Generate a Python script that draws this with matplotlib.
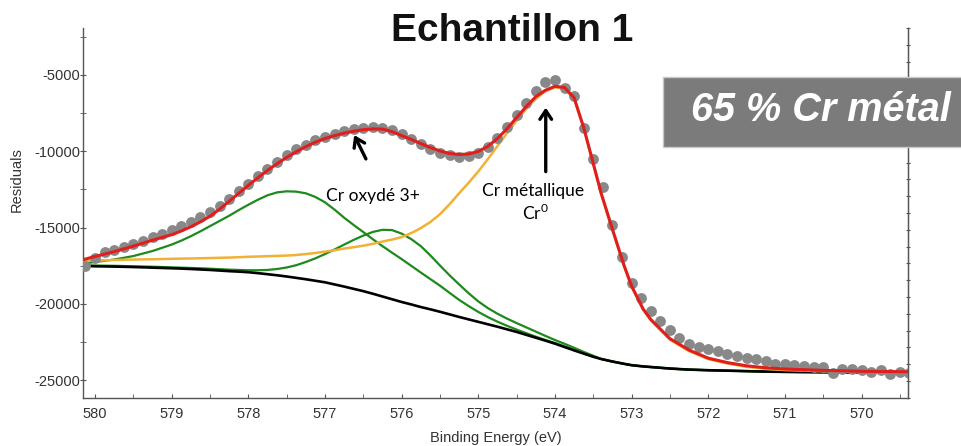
import matplotlib
matplotlib.use("Agg")
import matplotlib.pyplot as plt
from matplotlib.patches import Rectangle
from matplotlib.ticker import MultipleLocator

plt.rcParams['font.family'] = ['Liberation Sans', 'DejaVu Sans']
plt.rcParams['mathtext.fontset'] = 'custom'
plt.rcParams['mathtext.rm'] = 'Lato'

# ---- measured spectrum (Cr 2p3/2) ----
energy_pts = [580.125, 580.0, 579.875, 579.75, 579.625, 579.5, 579.375, 579.25, 579.125, 579.0,
              578.875, 578.75, 578.625, 578.5, 578.375, 578.25, 578.125, 578.0, 577.875, 577.75,
              577.625, 577.5, 577.375, 577.25, 577.125, 577.0, 576.875, 576.75, 576.625, 576.5,
              576.375, 576.25, 576.125, 576.0, 575.875, 575.75, 575.625, 575.5, 575.375, 575.25,
              575.125, 575.0, 574.875, 574.75, 574.625, 574.5, 574.375, 574.25, 574.125, 574.0,
              573.875, 573.75, 573.625, 573.5, 573.375, 573.25, 573.125, 573.0, 572.875, 572.75,
              572.625, 572.5, 572.375, 572.25, 572.125, 572.0, 571.875, 571.75, 571.625, 571.5,
              571.375, 571.25, 571.125, 571.0, 570.875, 570.75, 570.625, 570.5, 570.375, 570.25,
              570.125, 570.0, 569.875, 569.75, 569.625, 569.5, 569.375]
counts_pts = [-17520, -16970, -16610, -16450, -16250, -16060, -15860, -15630, -15400, -15170,
              -14910, -14650, -14330, -14000, -13580, -13120, -12630, -12140, -11650, -11160,
              -10710, -10280, -9890, -9570, -9270, -9040, -8850, -8690, -8550, -8460,
              -8420, -8460, -8620, -8880, -9170, -9500, -9830, -10090, -10280, -10380,
              -10320, -10090, -9700, -9110, -8390, -7610, -6830, -6040, -5460, -5330,
              -5850, -6370, -8460, -10480, -12370, -14850, -16940, -18630, -19610, -20460,
              -21140, -21700, -22220, -22610, -22840, -22970, -23100, -23290, -23420, -23520,
              -23620, -23750, -23910, -23960, -24010, -24080, -24130, -24170, -24500, -24290,
              -24290, -24350, -24460, -24350, -24570, -24460, -24500]

# ---- fitted curves ----
energy_fit = [580.15, 580.0, 579.75, 579.5, 579.25,
              579.0, 578.875, 578.75, 578.625, 578.5, 578.375, 578.25, 578.125, 578.0, 577.875,
              577.75, 577.625, 577.5, 577.375, 577.25, 577.125, 577.0, 576.875, 576.75, 576.625,
              576.5, 576.375, 576.25, 576.125, 576.0, 575.875, 575.75, 575.625, 575.5, 575.375,
              575.25, 575.125, 575.0, 574.875, 574.75, 574.625, 574.5, 574.375, 574.25, 574.125,
              574.0, 573.875, 573.75, 573.625, 573.5,
              573.4, 573.25, 573.1, 573.0, 572.85, 572.75, 572.5, 572.25, 572.0, 571.75,
              571.5, 571.25, 571.0, 570.5, 570.0, 569.4]
envelope = [-17100, -16900, -16580, -16220, -15830,
            -15470, -15230, -14950, -14630, -14260, -13800, -13280, -12760, -12240, -11740,
            -11260, -10820, -10410, -10040, -9700, -9410, -9170, -8980, -8820, -8690,
            -8590, -8540, -8550, -8720, -8980, -9230, -9500, -9760, -9990, -10150,
            -10220, -10180, -10020, -9680, -9170, -8530, -7800, -7080, -6430, -6010,
            -5750, -5830, -6500, -8450, -10800,
            -12700, -15110, -17460, -18830, -20330, -21020, -22280, -23030, -23560, -23850,
            -24060, -24190, -24270, -24360, -24420, -24450]
background = [-17520, -17540, -17560, -17590, -17630,
              -17670, -17690, -17720, -17750, -17780, -17820, -17860, -17890, -17930, -17990,
              -18060, -18130, -18210, -18300, -18390, -18490, -18590, -18730, -18870, -19020,
              -19170, -19340, -19520, -19700, -19880, -20040, -20210, -20360, -20520, -20690,
              -20860, -21020, -21180, -21340, -21500, -21670, -21840, -22030, -22220, -22410,
              -22610, -22830, -23050, -23260, -23470,
              -23610, -23780, -23930, -24020, -24100, -24140, -24240, -24310, -24350, -24380,
              -24410, -24440, -24460, -24480, -24500, -24500]
cr_metal = [-17200, -17160, -17130, -17100, -17080,
            -17050, -17040, -17030, -17015, -17000, -16985, -16970, -16945, -16920, -16900,
            -16880, -16860, -16840, -16800, -16740, -16670, -16580, -16490, -16380, -16290,
            -16190, -16070, -15920, -15790, -15630, -15370, -15040, -14640, -14130, -13480,
            -12760, -12060, -11330, -10520, -9660, -8820, -8000, -7230, -6570, -6070,
            -5820, -5900, -6570, -8480, -10870,
            -12760, -15170, -17520, -18890, -20390, -21080, -22350, -23100, -23620, -23910,
            -24130, -24260, -24340, -24420, -24480, -24500]
cr_ox_a = [-17360, -17260, -17100, -16870, -16540,
           -16120, -15860, -15570, -15250, -14910, -14570, -14230, -13860, -13510, -13180,
           -12890, -12700, -12630, -12650, -12760, -13000, -13350, -13830, -14360, -14840,
           -15300, -15770, -16220, -16650, -17070, -17510, -17950, -18380, -18810, -19280,
           -19740, -20150, -20530, -20870, -21170, -21440, -21690, -21920, -22150, -22370,
           -22560, -22790, -23020, -23240, -23450,
           -23610, -23780, -23930, -24020, -24100, -24140, -24240, -24310, -24350, -24380,
           -24410, -24440, -24460, -24480, -24500, -24500]
cr_ox_b = [-17480, -17490, -17510, -17540, -17570,
           -17610, -17630, -17650, -17670, -17700, -17730, -17760, -17780, -17800, -17800,
           -17780, -17720, -17620, -17470, -17260, -17020, -16740, -16440, -16120, -15810,
           -15530, -15290, -15150, -15170, -15400, -15760, -16220, -16830, -17490, -18130,
           -18730, -19310, -19840, -20280, -20650, -20970, -21260, -21540, -21820, -22100,
           -22370, -22620, -22880, -23150, -23400,
           -23610, -23780, -23930, -24020, -24100, -24140, -24240, -24310, -24350, -24380,
           -24410, -24440, -24460, -24480, -24500, -24500]

x_ticks = [580, 579, 578, 577, 576, 575, 574, 573, 572, 571, 570]
y_ticks = [-5000, -10000, -15000, -20000, -25000]

fig = plt.figure(figsize=(9.62, 4.46), dpi=100)
ax = fig.add_axes([83 / 962, 48.3 / 446, 825.3 / 962, 369.4 / 446])

green = '#1c8a1c'
ax.plot(energy_fit, cr_ox_a, color=green, lw=1.6, zorder=2)
ax.plot(energy_fit, cr_ox_b, color=green, lw=1.6, zorder=2)
ax.plot(energy_fit, background, color='black', lw=1.9, zorder=3)
ax.plot(energy_fit, cr_metal, color='#f2b134', lw=1.8, zorder=4)
ax.plot(energy_pts, counts_pts, 'o', color='#888888', ms=7.8, mec='none', zorder=5)
ax.plot(energy_fit, envelope, color='#e01e1e', lw=2.2, zorder=6)

ax.set_xlim(580.157, 569.39)
ax.set_ylim(-26150, -1950)
ax.set_xticks(x_ticks)
ax.set_xticklabels([str(v) for v in x_ticks])
ax.set_yticks(y_ticks)
ax.set_yticklabels([str(v) for v in y_ticks])
ax.xaxis.set_minor_locator(MultipleLocator(0.5))
ax.yaxis.set_minor_locator(MultipleLocator(2500))

for s in ['left', 'bottom', 'right']:
    ax.spines[s].set_color('#555555')
    ax.spines[s].set_linewidth(1.0)
ax.spines['top'].set_visible(False)
ax.tick_params(axis='x', which='both', direction='in', length=3, color='#555555',
               labelsize=10.5, labelcolor='#333333', pad=7)
ax.tick_params(axis='y', which='both', direction='inout', length=4, color='#555555',
               labelsize=10.5, labelcolor='#333333', pad=0)

# plain tick marks on the right-hand axis
ax2 = ax.twinx()
ax2.set_ylim(0, 22)
ax2.set_yticks(range(23))
ax2.set_yticklabels([])
ax2.tick_params(axis='y', direction='inout', length=3, color='#555555')
for s in ['left', 'bottom', 'top']:
    ax2.spines[s].set_visible(False)
ax2.spines['right'].set_color('#555555')

fig.text(17 / 962, 1 - 180 / 446, 'Residuals', rotation=90, ha='center', va='center',
         fontsize=10.5, color='#333333')
fig.text(496 / 962, 1 - 438 / 446, 'Binding Energy (eV)', ha='center', va='center',
         fontsize=10.5, color='#333333')

fig.text(512 / 962, 1 - 31 / 446, 'Echantillon 1', ha='center', va='center',
         fontsize=28, fontweight='bold', color='#111111')

# labels for the fitted components
arrow = dict(arrowstyle='->,head_length=0.45,head_width=0.3', color='black', lw=2.4,
             mutation_scale=14)
ax.annotate('', xy=(576.635, -8780), xytext=(576.45, -10670), arrowprops=arrow, zorder=7)
ax.annotate('', xy=(574.12, -6960), xytext=(574.12, -11520), arrowprops=arrow, zorder=7)
ax.text(576.37, -12960, 'Cr oxydé 3+', family=['Lato', 'DejaVu Sans'], fontsize=12.5,
        ha='center', va='center', zorder=7)
ax.text(574.29, -12630, 'Cr métallique', family=['Lato', 'DejaVu Sans'], fontsize=12.5,
        ha='center', va='center', zorder=7)
ax.text(574.26, -14050, r'Cr$^{\mathregular{0}}$', family=['Lato', 'DejaVu Sans'], fontsize=12.5,
        ha='center', va='center', zorder=7)

# grey result banner
fig.patches.append(Rectangle((663 / 962, 1 - 147.3 / 446), 0.32, 70 / 446,
                             transform=fig.transFigure, facecolor='#7b7b7b',
                             edgecolor='#c8c8c8', lw=1, zorder=10))
fig.text(821 / 962, 1 - 110 / 446, '65 % Cr métal', ha='center', va='center',
         fontsize=28.5, fontweight='bold', fontstyle='italic', color='white', zorder=11)

fig.savefig('out.png', dpi=100)
